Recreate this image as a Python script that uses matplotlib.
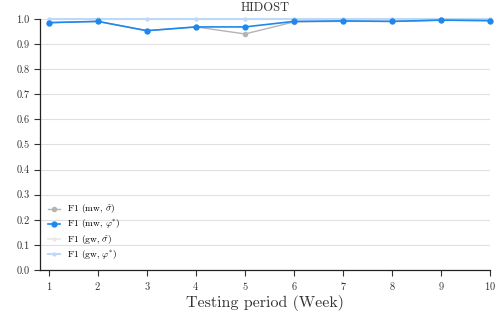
import numpy as np
import matplotlib
matplotlib.use("Agg")
import matplotlib.pyplot as plt

plt.rcParams['font.family'] = 'serif'
plt.rcParams['font.serif'] = ['cmr10', 'DejaVu Serif']
plt.rcParams['mathtext.fontset'] = 'cm'
plt.rcParams['axes.formatter.use_mathtext'] = True

weeks = [1, 2, 3, 4, 5, 6, 7, 8, 9, 10]
f1_mw_sigma = [0.985, 0.990, 0.953, 0.968, 0.940, 0.988, 0.990, 0.990, 0.995, 0.993]
f1_mw_phi = [0.985, 0.990, 0.953, 0.968, 0.968, 0.990, 0.992, 0.990, 0.995, 0.993]
f1_gw_sigma = [0.999, 0.999, 0.999, 0.999, 0.999, 0.999, 0.999, 0.999, 0.999, 0.999]
f1_gw_phi = [1.0, 1.0, 1.0, 1.0, 1.0, 1.0, 1.0, 1.0, 1.0, 1.0]

fig = plt.figure(figsize=(5.03, 3.2), dpi=100)
ax = fig.add_axes([0.0795, 0.156, 0.895, 0.785])

ax.plot(weeks, f1_gw_sigma, color='#e8e8e8', marker='o', ms=2, lw=1.2,
        label=r'F1 (gw, $\hat{\sigma}$)', clip_on=False, zorder=2)
ax.plot(weeks, f1_gw_phi, color='#bcdaf7', marker='o', ms=2, lw=1.5,
        label=r'F1 (gw, $\varphi^{*}$)', clip_on=False, zorder=2)
ax.plot(weeks, f1_mw_sigma, color='#b4b4b4', marker='o', ms=3, lw=1.0,
        label=r'F1 (mw, $\hat{\sigma}$)', clip_on=False, zorder=3)
ax.plot(weeks, f1_mw_phi, color='#1e88f0', marker='o', ms=3.5, lw=1.2,
        label=r'F1 (mw, $\varphi^{*}$)', clip_on=False, zorder=4)

ax.set_xlim(0.82, 10)
ax.set_ylim(0, 1.0)
ax.set_xticks(weeks)
ax.set_yticks(np.arange(0, 1.01, 0.1))
ax.set_yticklabels([f'{v:.1f}' for v in np.arange(0, 1.01, 0.1)])
ax.tick_params(labelsize=7.5, colors='#333333', length=4, width=0.8)
ax.grid(axis='y', color='#e0e0e0', lw=0.8)
ax.set_axisbelow(True)
for s in ['top', 'right']:
    ax.spines[s].set_visible(False)
for s in ['left', 'bottom']:
    ax.spines[s].set_color('#222222')
    ax.spines[s].set_linewidth(0.9)

ax.set_title('HIDOST', fontsize=9, color='#333333', pad=6)
ax.set_xlabel('Testing period (Week)', fontsize=11.5, color='#333333', labelpad=2)

handles, labels = ax.get_legend_handles_labels()
order = [2, 3, 0, 1]
ax.legend([handles[i] for i in order], [labels[i] for i in order],
          loc='lower left', frameon=False, fontsize=6.8, handlelength=1.2,
          labelspacing=0.2, borderaxespad=0.5)

fig.savefig('out.png', dpi=100)
